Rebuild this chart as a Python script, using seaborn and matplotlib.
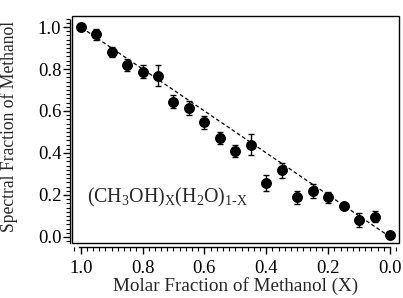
import matplotlib
matplotlib.use("Agg")
import matplotlib.pyplot as plt
from matplotlib.patches import Rectangle
from matplotlib.ticker import MultipleLocator
import seaborn as sns
import pandas as pd

molar_x = [1.00, 0.95, 0.90, 0.85, 0.80, 0.75, 0.70, 0.65, 0.60, 0.55, 0.50,
           0.45, 0.40, 0.35, 0.30, 0.25, 0.20, 0.15, 0.10, 0.05, 0.00]
spectral_y = [1.000, 0.965, 0.880, 0.820, 0.787, 0.767, 0.644, 0.614, 0.546, 0.473, 0.410,
              0.440, 0.257, 0.317, 0.188, 0.218, 0.188, 0.148, 0.080, 0.097, 0.008]
y_err = [0.0, 0.026, 0.025, 0.030, 0.032, 0.050, 0.032, 0.034, 0.030, 0.028, 0.030,
         0.050, 0.040, 0.036, 0.032, 0.033, 0.025, 0.010, 0.033, 0.026, 0.0]
ref_x = [1.0, 0.0]
ref_y = [1.0, 0.0]
x_ticks = [1.0, 0.8, 0.6, 0.4, 0.2, 0.0]
y_ticks = [0.0, 0.2, 0.4, 0.6, 0.8, 1.0]

sns.set_theme(style="ticks")
plt.rcParams["font.family"] = ["Liberation Serif", "DejaVu Serif"]
plt.rcParams["mathtext.fontset"] = "custom"
plt.rcParams["mathtext.rm"] = "Liberation Serif"
plt.rcParams["mathtext.it"] = "Liberation Serif"

df = pd.DataFrame({"x": molar_x, "y": spectral_y, "err": y_err})
ref = pd.DataFrame({"x": ref_x, "y": ref_y})

fig = plt.figure(figsize=(4.03, 2.98), dpi=100)
ax = fig.add_axes([72 / 403, 55 / 298, 327 / 403, 227.3 / 298])

sns.lineplot(data=ref, x="x", y="y", ax=ax, color="black", lw=0.9,
             linestyle=(0, (3, 2)), zorder=1)
ax.errorbar(df["x"], df["y"], yerr=df["err"], fmt="none", ecolor="black",
            elinewidth=1.0, capsize=2.5, capthick=1.0, zorder=2)
sns.scatterplot(data=df, x="x", y="y", ax=ax, color="black", s=62,
                edgecolor="black", linewidth=0, zorder=3)

ax.set_xlim(1.028, -0.029)
ax.set_ylim(-0.029, 1.054)
ax.set_xticks(x_ticks)
ax.set_yticks(y_ticks)
ax.set_xticklabels([f"{v:.1f}" for v in x_ticks])
ax.set_yticklabels([f"{v:.1f}" for v in y_ticks])
ax.xaxis.set_minor_locator(MultipleLocator(0.02))
ax.yaxis.set_minor_locator(MultipleLocator(0.02))
ax.tick_params(which="major", direction="out", length=5, width=1, labelsize=13.5,
               colors="black")
ax.tick_params(axis="x", which="major", pad=4)
ax.tick_params(axis="y", which="major", pad=1.5)
ax.tick_params(which="minor", direction="out", length=3, width=0.8, colors="black")

for s in ["top", "right"]:
    ax.spines[s].set_visible(False)
ax.spines["left"].set_position(("outward", 1.2))
ax.spines["bottom"].set_position(("outward", 3))
ax.spines["left"].set_bounds(-0.029, 1.033)
ax.spines["bottom"].set_bounds(0.0, 1.006)
for s in ["left", "bottom"]:
    ax.spines[s].set_linewidth(1.0)
    ax.spines[s].set_color("black")
ax.add_patch(Rectangle((0, 0), 1, 1, transform=ax.transAxes, fill=False,
                       lw=1.0, edgecolor="black", clip_on=False, zorder=5))

ax.set_xlabel("Molar Fraction of Methanol (X)", fontsize=13.8, labelpad=0)
ax.set_ylabel("Spectral Fraction of Methanol", fontsize=12.7)
ax.yaxis.set_label_coords(-0.165, 0.515)

ax.text(0.045, 0.2, r"$\mathregular{(CH_3OH)_X(H_2O)_{1\text{-}X}}$",
        transform=ax.transAxes, fontsize=14.3, ha="left", va="center")

fig.savefig("out.png", dpi=100)
